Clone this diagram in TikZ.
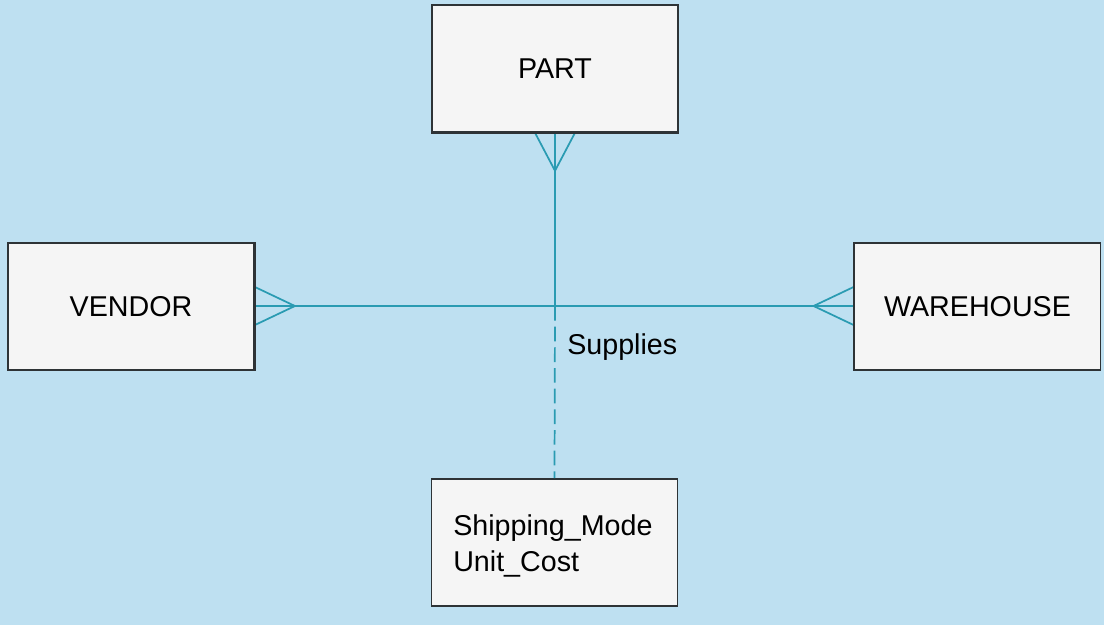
\documentclass[tikz,border=0pt]{standalone}
\usepackage{fontspec}
\setmainfont{Liberation Sans}
\usetikzlibrary{calc}
\definecolor{bgblue}{HTML}{BEE0F1}
\definecolor{linkc}{HTML}{2A9BB2}
\definecolor{boxfill}{HTML}{F5F5F5}
\definecolor{boxline}{HTML}{2E3336}
\begin{document}
\begin{tikzpicture}[x=0.75pt,y=-0.75pt,
  entity/.style={draw=boxline,line width=1.4pt,fill=boxfill,minimum width=184.5pt,minimum height=95pt,inner sep=0pt,font=\fontsize{21.5}{26}\selectfont},
  attrbox/.style={entity,align=left,font=\fontsize{21.5}{26.5}\selectfont},
  link/.style={draw=linkc,line width=1.3pt},
  lbl/.style={font=\fontsize{21.5}{26}\selectfont,anchor=west,inner sep=0pt}]
\fill[bgblue] (0,0) rectangle (1104,625);
\useasboundingbox (0,0) rectangle (1104,625);
\node[entity] (part) at (555,68.5) {PART};
\node[entity] (vendor) at (131,306.5) {VENDOR};
\node[entity] (warehouse) at (977.5,306.5) {WAREHOUSE};
\node[attrbox] (attr) at (554.5,542.5) {};
\node[anchor=west,inner sep=0pt,align=left,font=\fontsize{21.5}{26.5}\selectfont] (attrtext) at (453,546) {Shipping\_Mode\\Unit\_Cost};
\coordinate (junc) at (555,306);
% connectors
\draw[link] (vendor.east |- junc) -- (warehouse.west |- junc);
\draw[link] (part.south) -- (junc);
\draw[link,dash pattern=on 11pt off 4.5pt] (junc) -- (attr.north);
% crow's feet
\draw[link] ($(part.south)+(-20,0)$) -- ($(part.south)+(0,38)$) -- ($(part.south)+(20,0)$);
\draw[link] ($(vendor.east |- junc)+(0,-19)$) -- ($(vendor.east |- junc)+(40,0)$) -- ($(vendor.east |- junc)+(0,19)$);
\draw[link] ($(warehouse.west |- junc)+(0,-19)$) -- ($(warehouse.west |- junc)+(-40,0)$) -- ($(warehouse.west |- junc)+(0,19)$);
% redraw box outlines over connectors
\draw[boxline,line width=1.4pt] (part.south west) -- (part.south east);
\draw[boxline,line width=1.4pt] (vendor.north east) -- (vendor.south east);
\draw[boxline,line width=1.4pt] (warehouse.north west) -- (warehouse.south west);
\node[lbl] (supplies) at (567,347) {Supplies};
\end{tikzpicture}
\end{document}
